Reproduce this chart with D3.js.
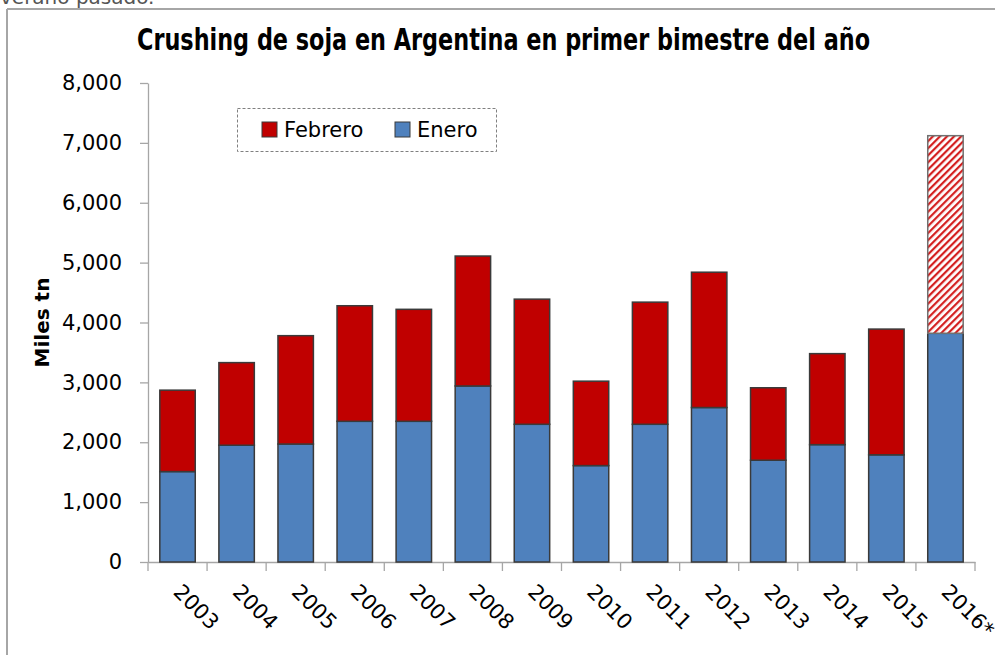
<html>
<head>
<meta charset="utf-8">
<script src="https://cdn.jsdelivr.net/npm/d3@7"></script>
<style>
  body { margin: 0; background: #fff; }
  svg text { font-family: "DejaVu Sans", sans-serif; fill: #000; }
</style>
</head>
<body>
<svg class="chart"></svg>
<script>
// datos del grafico (miles de toneladas)
var years   = ["2003","2004","2005","2006","2007","2008","2009","2010","2011","2012","2013","2014","2015","2016*"];
var enero   = [1510, 1950, 1970, 2350, 2350, 2940, 2300, 1610, 2300, 2580, 1700, 1960, 1790, 3820];
var febrero = [1360, 1380, 1810, 1930, 1870, 2170, 2090, 1410, 2040, 2260, 1210, 1520, 2100, 3300];
var yTicks  = [0, 1000, 2000, 3000, 4000, 5000, 6000, 7000, 8000];
var seriesNames = ["Febrero", "Enero"];

var W = 995, H = 655;
var mLeft = 148, mRight = 975, mTop = 83, mBottom = 562;
var azul = "#4F81BD", rojo = "#C00000";

var svg = d3.select(".chart").attr("width", W).attr("height", H);

var defs = svg.append("defs");
var pat = defs.append("pattern")
    .attr("id", "rayas")
    .attr("patternUnits", "userSpaceOnUse")
    .attr("width", 5).attr("height", 5)
    .attr("patternTransform", "rotate(45)");
pat.append("rect").attr("width", 5).attr("height", 5).attr("fill", "#fff");
pat.append("rect").attr("width", 2.2).attr("height", 5).attr("fill", "#d42020");

// texto cortado arriba y marco
svg.append("text").attr("x", 0).attr("y", 4)
    .style("font-size", "20px").style("fill", "#555").text("verano pasado.");
svg.append("line").attr("x1", 7).attr("x2", W).attr("y1", 9).attr("y2", 9)
    .attr("stroke", "#a6a6a6").attr("stroke-width", 2);
svg.append("line").attr("x1", 7).attr("x2", 7).attr("y1", 9).attr("y2", H)
    .attr("stroke", "#a6a6a6").attr("stroke-width", 2);

var x = d3.scaleBand().domain(years).range([mLeft, mRight]).paddingInner(0.4).paddingOuter(0.2);
var y = d3.scaleLinear().domain([0, 8000]).range([mBottom, mTop]);

// ejes
var yAxis = svg.append("g").attr("transform", "translate(" + mLeft + ",0)")
    .call(d3.axisLeft(y).tickValues(yTicks).tickSize(8).tickSizeOuter(0).tickPadding(18)
        .tickFormat(d3.format(",")));
yAxis.selectAll("text").style("font-size", "21px");

var xAxis = svg.append("g").attr("transform", "translate(0," + mBottom + ")")
    .call(d3.axisBottom(x).tickSize(0).tickSizeOuter(0).tickFormat(""));
xAxis.selectAll(".tick").remove();
// ticks entre categorias
var borders = years.map(function(d) { return x(d) - x.step() * x.paddingInner() / 2; });
borders.push(mRight);
xAxis.selectAll(".sep").data(borders).enter().append("line")
    .attr("x1", function(d) { return d; }).attr("x2", function(d) { return d; })
    .attr("y1", 0).attr("y2", 9);
[yAxis, xAxis].forEach(function(g) {
  g.selectAll("line, path").attr("stroke", "#a6a6a6").attr("stroke-width", 1.3);
});

svg.selectAll(".xlab").data(years).enter().append("text")
    .attr("class", "xlab")
    .attr("transform", function(d) { return "translate(" + (x(d) + x.bandwidth() / 2) + ",588) rotate(45)"; })
    .attr("dy", "0.35em")
    .style("font-size", "21px")
    .text(function(d) { return d; });

// barras apiladas
var bars = svg.selectAll(".bar").data(years).enter().append("g").attr("class", "bar");
bars.append("rect")
    .attr("x", function(d) { return x(d); })
    .attr("width", x.bandwidth())
    .attr("y", function(d, i) { return y(enero[i]); })
    .attr("height", function(d, i) { return y(0) - y(enero[i]); })
    .attr("fill", azul).attr("stroke", "#3a3a3a").attr("stroke-width", 1.5);
bars.append("rect")
    .attr("x", function(d) { return x(d); })
    .attr("width", x.bandwidth())
    .attr("y", function(d, i) { return y(enero[i] + febrero[i]); })
    .attr("height", function(d, i) { return y(enero[i]) - y(enero[i] + febrero[i]); })
    .attr("fill", function(d, i) { return i == years.length - 1 ? "url(#rayas)" : rojo; })
    .attr("stroke", function(d, i) { return i == years.length - 1 ? "#707070" : "#3a3a3a"; })
    .attr("stroke-width", 1.5);

// titulo
svg.append("text").attr("x", 137).attr("y", 50)
    .attr("textLength", 733).attr("lengthAdjust", "spacingAndGlyphs")
    .style("font-family", "'Liberation Sans Narrow', 'DejaVu Sans Condensed', sans-serif")
    .style("font-weight", "bold").style("font-size", "30px")
    .text("Crushing de soja en Argentina en primer bimestre del año");

// titulo eje y
svg.append("text")
    .attr("transform", "translate(49," + ((mTop + mBottom) / 2) + ") rotate(-90)")
    .attr("text-anchor", "middle")
    .style("font-weight", "bold").style("font-size", "20px")
    .text("Miles tn");

// leyenda
var leg = svg.append("g");
leg.append("rect").attr("x", 237.5).attr("y", 108.5).attr("width", 259).attr("height", 43)
    .attr("fill", "#fff").attr("stroke", "#808080").attr("stroke-dasharray", "3,2");
var legX = [262, 395];
seriesNames.forEach(function(s, i) {
  leg.append("rect").attr("x", legX[i]).attr("y", 122).attr("width", 15).attr("height", 15)
      .attr("fill", s == "Febrero" ? rojo : azul).attr("stroke", "#3a3a3a").attr("stroke-width", 1);
  leg.append("text").attr("x", legX[i] + 22).attr("y", 137)
      .style("font-size", "21px").text(s);
});
</script>
</body>
</html>
